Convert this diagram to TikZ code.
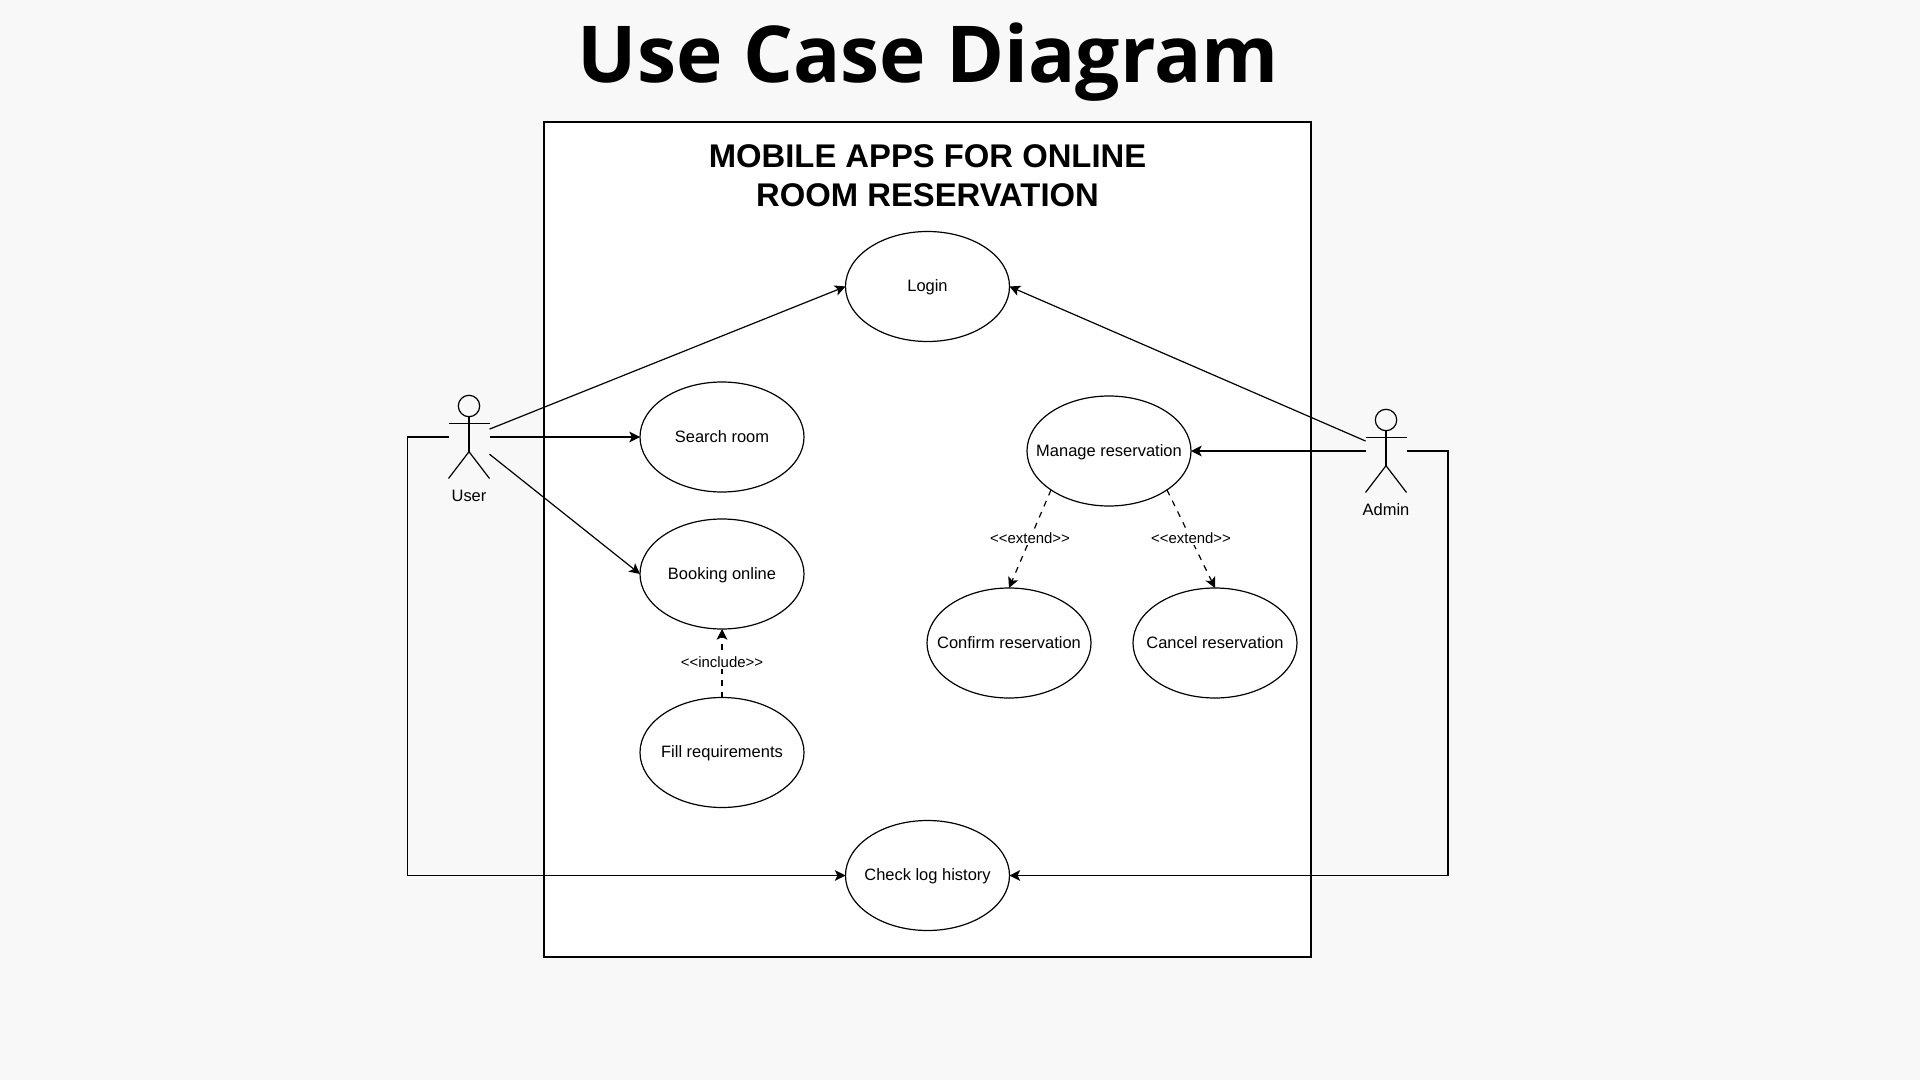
\documentclass[tikz,border=0pt]{standalone}
\usepackage{fontspec}
\setmainfont{Liberation Sans}
\newfontfamily\titlefont{Open Sans}
\usetikzlibrary{arrows.meta}
\usetikzlibrary{shapes.geometric}
\definecolor{pagegray}{HTML}{F8F8F8}
\tikzset{
 usecase/.style={draw=black, ellipse, line width=.9pt, inner xsep=-12pt, inner ysep=-4pt, outer sep=0, minimum width=123pt, minimum height=82.5pt, text height=7.8pt, text depth=0pt, font=\fontsize{12.35}{15}\selectfont},
 actorbox/.style={rectangle, inner sep=0, outer sep=0, minimum width=30.75pt, minimum height=62.25pt},
 link/.style={black, line width=.9pt, -{Stealth[length=8pt, width=8pt, inset=2pt]}},
 dashlink/.style={link, dash pattern=on 4.5pt off 4.5pt},
 stereo/.style={midway, fill=white, inner sep=1pt, yshift=.8pt, font=\fontsize{11.2}{13}\selectfont},
}
\begin{document}
\begin{tikzpicture}[x=.75pt, y=-.75pt]
\fill[pagegray] (0,0) rectangle (1920,1080);
\useasboundingbox (0,0) rectangle (1920,1080);
\node[font=\titlefont\bfseries\fontsize{58.9}{70}\selectfont, anchor=base] (maintitle) at (928.5,82.5) {Use Case Diagram};
\draw[fill=white, line width=.9pt] (544,122) rectangle (1311,957);
\node[font=\bfseries\fontsize{24.6}{29.3}\selectfont, align=center] (systemtitle) at (927.5,176) {MOBILE APPS FOR ONLINE\\ROOM RESERVATION};
% use cases
\node[usecase] (login) at (927.5,286.5) {Login};
\node[usecase] (search) at (722,437) {Search room};
\node[usecase] (booking) at (722,574) {Booking online};
\node[usecase] (fill) at (722,752.5) {Fill requirements};
\node[usecase] (manage) at (1109,451) {Manage reservation};
\node[usecase] (confirm) at (1009,643) {Confirm reservation};
\node[usecase] (cancel) at (1215,643) {Cancel reservation};
\node[usecase] (history) at (927.5,875.5) {Check log history};
% actors
\foreach \who/\cx/\cy/\lbl in {user/469/437/User, admin/1386/451/Admin} {
 \node[actorbox] (\who) at (\cx,\cy) {};
 \draw[line width=.9pt] (\cx,\cy-31) circle (10.7);
 \draw[line width=.9pt] (\cx,\cy-20.3)--(\cx,\cy+14.7);
 \draw[line width=.9pt] (\who.west |- 0,\cy-13.7)--(\who.east |- 0,\cy-13.7);
 \draw[line width=.9pt] (\who.south west)--(\cx,\cy+14.7)--(\who.south east);
 \node[anchor=north, inner ysep=0pt, text height=9.2pt, text depth=0pt, font=\fontsize{12.35}{15}\selectfont, yshift=-8pt] (\who label) at (\who.south) {\lbl};
}
\draw[link] (user.21)--(login.west);
\draw[link] (user.east)--(search.west);
\draw[link] (user.-40)--(booking.west);
\draw[link] (user.west)-|(407.3,875.5)--(history.west);
\draw[link] (admin.154)--(login.east);
\draw[link] (admin.west)--(manage.east);
\draw[link] (admin.east)-|(1448,875.5)--(history.east);
\draw[dashlink] (fill.north)--(booking.south) node[stereo] (includelabel) {<{}<include>{}>};
\draw[dashlink] (manage.south west)--(confirm.north) node[stereo] (extendone) {<{}<extend>{}>};
\draw[dashlink] (manage.south east)--(cancel.north) node[stereo] (extendtwo) {<{}<extend>{}>};
\end{tikzpicture}
\end{document}
